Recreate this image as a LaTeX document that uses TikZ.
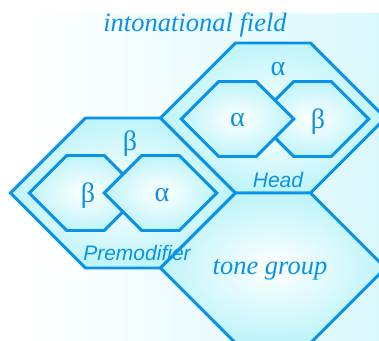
\documentclass[tikz,border=0pt]{standalone}
\usepackage{fontspec}
\setmainfont{Liberation Serif}
\setsansfont{Liberation Sans}
\usepackage{tikz}
\usetikzlibrary{positioning}

\definecolor{hexblue}{RGB}{8,146,232}
\definecolor{hexfill}{RGB}{190,244,250}
\definecolor{fieldbg}{RGB}{218,248,252}

% hexagon with 45 degree sides: centre x, centre y, half height
\newcommand{\hexcell}[3]{%
  \draw[hexcell] (#1,#2) ++({-1.5*#3},0) -- ++(#3,-#3) -- ++(#3,0) -- ++(#3,#3)
    -- ++(-#3,#3) -- ++(-#3,0) -- cycle;}

\begin{document}
\begin{tikzpicture}[
    x=1pt, y=-1pt,
    hexcell/.style={draw=hexblue, line width=2.9pt, line join=miter, inner color=white, outer color=hexfill},
    greek/.style={text=hexblue, font=\fontsize{28}{28}\selectfont},
    unitlabel/.style={text=hexblue, font=\fontsize{21}{21}\selectfont\sffamily\itshape},
    rank/.style={text=hexblue, font=\fontsize{26.5}{26.5}\selectfont\itshape}
  ]
  \useasboundingbox (0,0) rectangle (379,340);
  \shade[left color=white, right color=fieldbg] (22,13) rectangle (379,340);

  % outer cells
  \hexcell{123}{193}{75}
  \hexcell{273}{118}{75}
  \hexcell{273}{268}{75}

  % inner cells, beta first so that alpha lies over it
  \hexcell{85.5}{193}{37.5}
  \hexcell{160.5}{193}{37.5}
  \hexcell{312.5}{119}{37.5}
  \hexcell{237.5}{119}{37.5}

  \node[rank] (field) at (195,25) {intonational field};
  \node[rank] (tone) at (270,270) {tone group};
  \node[unitlabel] (premod) at (137,253) {Premodifier};
  \node[unitlabel] (head) at (278,180) {Head};
  \node[greek] (premodrole) at (130,144) {β};
  \node[greek] (headrole) at (278,69) {α};
  \node[greek] (pb) at (88,196) {β};
  \node[greek] (pa) at (162,195) {α};
  \node[greek] (ha) at (237.5,120) {α};
  \node[greek] (hb) at (318,122) {β};
\end{tikzpicture}
\end{document}
